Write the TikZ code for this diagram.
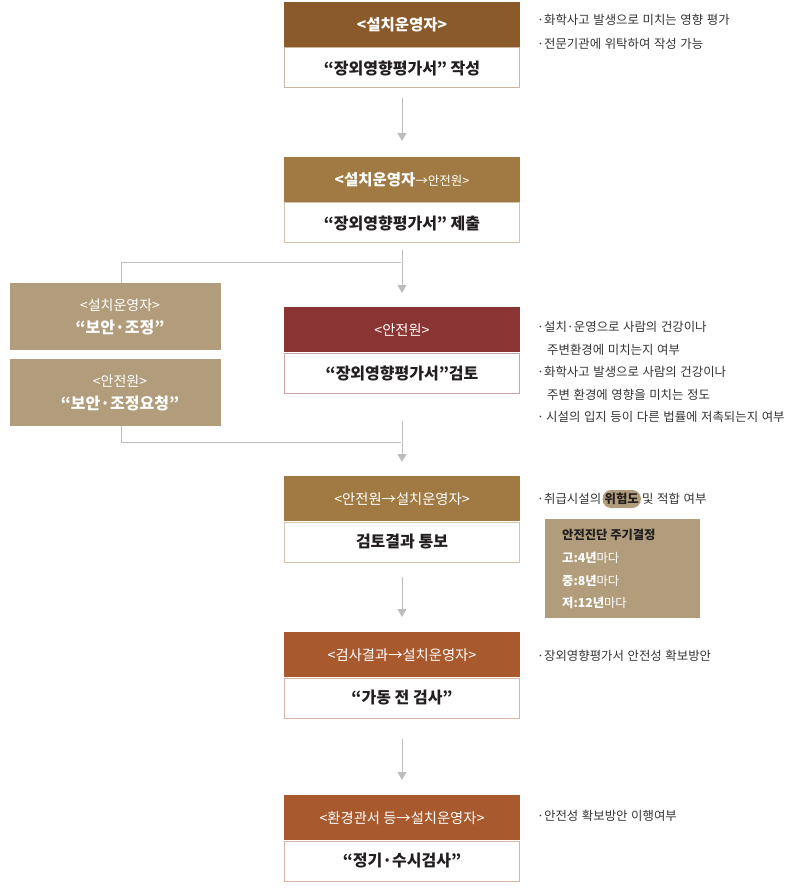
\documentclass[tikz,border=0pt]{standalone}
\usepackage{fontspec}
\setmainfont{Noto Sans CJK KR}
\newfontfamily\rfont{Noto Sans CJK KR}[WordSpace=1.3]
\usetikzlibrary{arrows.meta}
\definecolor{cA}{HTML}{8B5A2B}
\definecolor{cB}{HTML}{A07A42}
\definecolor{cC}{HTML}{8B3434}
\definecolor{cD}{HTML}{A85A2E}
\definecolor{tan}{HTML}{B19D7B}
\definecolor{gry}{HTML}{BDBDBD}
\definecolor{txt}{HTML}{231F20}
\definecolor{rtxt}{HTML}{333333}
\tikzset{
  hdr/.style={rectangle, minimum width=236pt, minimum height=45pt, inner sep=0pt, text=white, font=\fontsize{14.3}{16}\selectfont, anchor=north},
  bdy/.style={rectangle, draw, line width=1pt, fill=white, minimum width=235pt, minimum height=40pt, inner sep=0pt, text=txt, font=\bfseries\fontsize{16}{18}\selectfont, anchor=north},
  conn/.style={draw=gry, line width=1pt},
  arr/.style={conn, -{Triangle[length=8pt,width=9pt]}},
  rt/.style={anchor=west, inner sep=0pt, text=rtxt, font=\rfont\fontsize{12.4}{14}\selectfont},
  lbox/.style={rectangle, fill=tan, minimum width=211pt, minimum height=67pt, inner sep=0pt},
  ltxt/.style={align=center, text=white, inner sep=0pt, font=\fontsize{14}{20}\selectfont},
  ttxt/.style={anchor=west, inner sep=0pt, text=white, font=\fontsize{12.3}{14}\selectfont}
}
\begin{document}
\begin{tikzpicture}[x=1pt,y=-1pt]
\useasboundingbox (0,0) rectangle (790,890);
% main boxes
\node[hdr, fill=cA] (h1) at (402,2) {\bfseries\fontsize{15.5}{17}\selectfont <설치운영자>};
\node[bdy, draw=cA!45] (b1) at (402,47.5) {“장외영향평가서” 작성};
\node[hdr, fill=cB] (h2) at (402,157) {{\bfseries\fontsize{15.5}{17}\selectfont <설치운영자}{\fontsize{12.5}{14}\selectfont→안전원>}};
\node[bdy, draw=cB!45] (b2) at (402,202.5) {“장외영향평가서” 제출};
\node[hdr, fill=cC] (h3) at (402,307) {<안전원>};
\node[bdy, draw=cC!45] (b3) at (402,352.5) {“장외영향평가서”검토};
\node[hdr, fill=cB] (h4) at (402,476) {<안전원→설치운영자>};
\node[bdy, draw=cB!45] (b4) at (402,521.5) {검토결과 통보};
\node[hdr, fill=cD] (h5) at (402,632) {<검사결과→설치운영자>};
\node[bdy, draw=cD!45] (b5) at (402,677.5) {“가동 전 검사”};
\node[hdr, fill=cD] (h6) at (402,795) {<환경관서 등→설치운영자>};
\node[bdy, draw=cD!45] (b6) at (402,840.5) {“정기·수시검사”};
% left boxes
\node[lbox] (la) at (115.5,316.5) {};
\node[ltxt] (lat) at (120,317) {<설치운영자>\\[3pt]{\bfseries\fontsize{16}{18}\selectfont “보안·조정”}};
\node[lbox] (lb) at (115.5,392.5) {};
\node[ltxt] (lbt) at (120,392.5) {<안전원>\\[3pt]{\bfseries\fontsize{16}{18}\selectfont “보안·조정요청”}};
% connectors
\coordinate (j1) at (401,263);
\coordinate (lt) at (121,283);
\coordinate (lbot) at (121,426);
\coordinate (j2) at (401,442);
\draw[arr, shorten <=10pt, shorten >=16pt] (b1) -- (h2);
\draw[conn] (j1) -| (lt);
\draw[arr, shorten <=7pt, shorten >=14pt] (b2) -- (h3);
\draw[conn] (lbot) |- (j2);
\draw[arr, shorten <=27pt, shorten >=14pt] (b3) -- (h4);
\draw[arr, shorten <=14pt, shorten >=15pt] (b4) -- (h5);
\draw[arr, shorten <=20pt, shorten >=15pt] (b5) -- (h6);
% right notes
\node[rt] (r1) at (537,20) {·화학사고 발생으로 미치는 영향 평가};
\node[rt] (r2) at (537,44) {·전문기관에 위탁하여 작성 가능};
\node[rt] (r3) at (537,327) {·설치·운영으로 사람의 건강이나};
\node[rt] (r4) at (547,349.5) {주변환경에 미치는지 여부};
\node[rt] (r5) at (537,372) {·화학사고 발생으로 사람의 건강이나};
\node[rt] (r6) at (547,394.5) {주변 환경에 영향을 미치는 정도};
\node[rt] (r7) at (537,417) {·\,시설의 입지 등이 다른 법률에 저촉되는지 여부};
\node[rt] (r8) at (537,499) {·취급시설의};
\node[rounded corners=8.5pt, fill=tan, minimum height=18pt, inner xsep=2pt, inner ysep=0pt, anchor=west, text=txt, font=\bfseries\fontsize{12.4}{14}\selectfont] (r9) at ([xshift=1pt]r8.east) {위험도};
\node[rt] (r10) at ([xshift=1pt]r9.east) {및 적합 여부};
\node[rt] (r11) at (537,656) {·장외영향평가서 안전성 확보방안};
\node[rt] (r12) at (537,816) {·안전성 확보방안 이행여부};
% tan box
\node[rectangle, fill=tan, minimum width=155pt, minimum height=99pt, inner sep=0pt, anchor=north west] (tb) at (545,519) {};
\node[ttxt, text=txt, font=\bfseries\fontsize{12.3}{14}\selectfont] (t1) at (562,535) {안전진단 주기결정};
\node[ttxt] (t2) at (562,558) {{\bfseries 고:4년}마다};
\node[ttxt] (t3) at (562,581) {{\bfseries 중:8년}마다};
\node[ttxt] (t4) at (562,603) {{\bfseries 저:12년}마다};
\end{tikzpicture}
\end{document}
